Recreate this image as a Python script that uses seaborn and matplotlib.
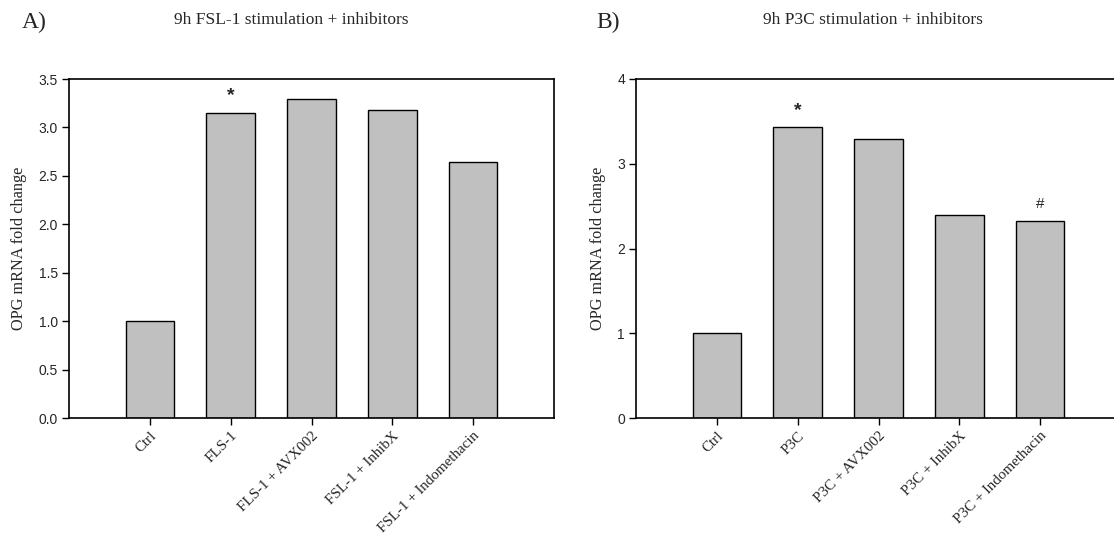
import matplotlib
matplotlib.use("Agg")
import matplotlib.pyplot as plt
import seaborn as sns
import pandas as pd

# Data
fsl_groups = ["Ctrl", "FLS-1", "FLS-1 + AVX002", "FSL-1 + InhibX", "FSL-1 + Indomethacin"]
fsl_values = [1.0, 3.15, 3.29, 3.18, 2.64]
p3c_groups = ["Ctrl", "P3C", "P3C + AVX002", "P3C + InhibX", "P3C + Indomethacin"]
p3c_values = [1.0, 3.43, 3.29, 2.39, 2.32]

fsl_marks = {"FLS-1": "*"}
p3c_marks = {"P3C": "*", "P3C + Indomethacin": "#"}

sns.set_theme(style="white")
plt.rcParams["font.family"] = ["Liberation Serif", "DejaVu Serif"]

W, H = 1114, 539
fig = plt.figure(figsize=(W / 100, H / 100), dpi=100)


def px_axes(left, top, right, bottom):
    return fig.add_axes([left / W, 1 - bottom / H, (right - left) / W, (bottom - top) / H])


def panel(ax, groups, values, marks, ymax, yticks, yfmt, title, letter, letter_x, title_x):
    df = pd.DataFrame({"group": groups, "value": values})
    sns.barplot(data=df, x="group", y="value", ax=ax, color="#c0c0c0",
                saturation=1, width=0.6, edgecolor="black", linewidth=1.0)
    ax.set_xlim(-1, 5)
    ax.set_ylim(0, ymax)
    ax.set_yticks(yticks)
    ax.set_yticklabels([yfmt.format(t) for t in yticks],
                       family="Liberation Sans", fontsize=10)
    ax.set_xticks(range(len(groups)))
    ax.set_xticklabels(groups, rotation=45, ha="right", rotation_mode="anchor",
                       fontsize=10.8)
    ax.tick_params(axis="both", which="both", direction="out", length=5,
                   width=1, color="black", left=True, bottom=True, pad=3)
    ax.set_xlabel("")
    ax.set_ylabel("OPG mRNA fold change", fontsize=11.7, labelpad=8)
    for s in ax.spines.values():
        s.set_visible(True)
        s.set_color("black")
        s.set_linewidth(1.2)
    for i, g in enumerate(groups):
        if g in marks:
            star = marks[g] == "*"
            off = ymax * (0.025 if star else 0.03)
            ax.text(i, values[i] + off, marks[g], ha="center", va="bottom",
                    family="Liberation Sans", fontsize=14 if star else 11,
                    fontweight="bold" if star else "normal")
    fig.text(letter_x / W, 1 - 22 / H, letter, fontsize=17, ha="left", va="center")
    fig.text(title_x / W, 1 - 20 / H, title, fontsize=12.5, ha="center", va="center")


ax_a = px_axes(69, 79, 554, 418)
panel(ax_a, fsl_groups, fsl_values, fsl_marks, 3.5,
      [0, 0.5, 1.0, 1.5, 2.0, 2.5, 3.0, 3.5], "{:.1f}",
      "9h FSL-1 stimulation + inhibitors", "A)", 22, 291)

ax_b = px_axes(636, 79, 1121, 418)
panel(ax_b, p3c_groups, p3c_values, p3c_marks, 4,
      [0, 1, 2, 3, 4], "{:d}",
      "9h P3C stimulation + inhibitors", "B)", 596, 873)

fig.savefig("out.png", dpi=100)
